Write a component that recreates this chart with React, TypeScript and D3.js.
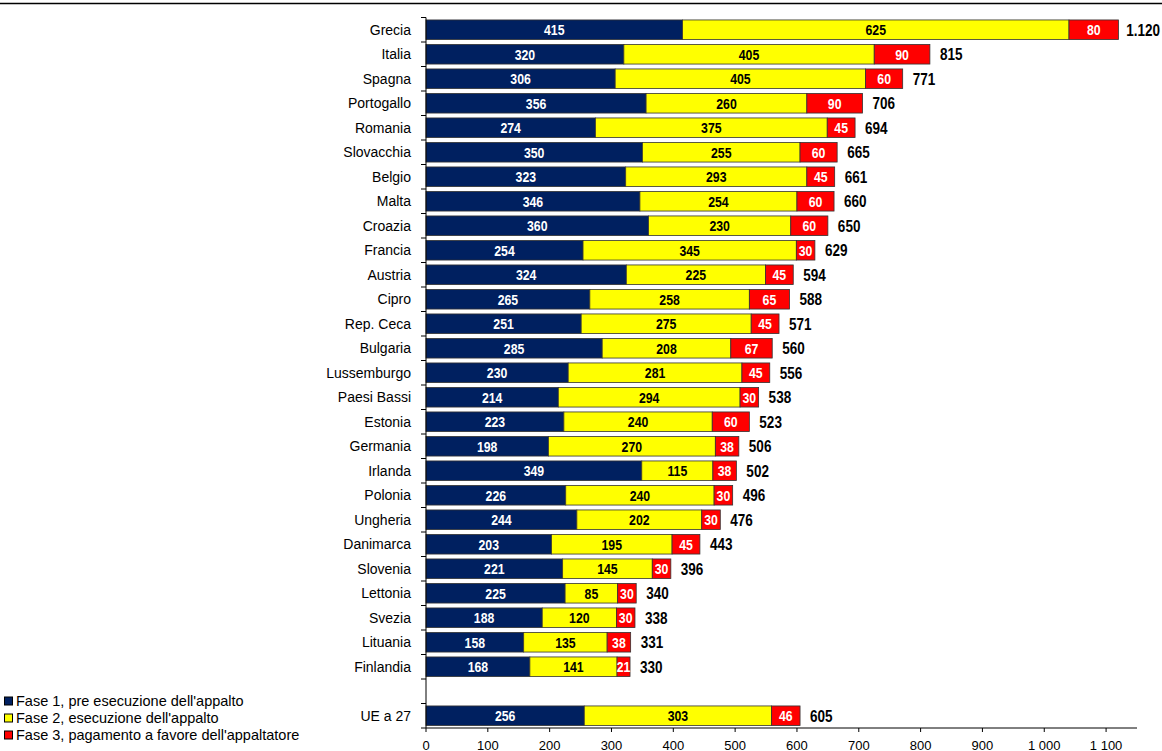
import React from "react";
import * as d3 from "d3";

// Giorni necessari per fase, per Paese
const countries = [
  "Grecia", "Italia", "Spagna", "Portogallo", "Romania", "Slovacchia", "Belgio",
  "Malta", "Croazia", "Francia", "Austria", "Cipro", "Rep. Ceca", "Bulgaria",
  "Lussemburgo", "Paesi Bassi", "Estonia", "Germania", "Irlanda", "Polonia",
  "Ungheria", "Danimarca", "Slovenia", "Lettonia", "Svezia", "Lituania", "Finlandia",
  "", "UE a 27",
];
const fase1 = [415, 320, 306, 356, 274, 350, 323, 346, 360, 254, 324, 265, 251, 285, 230, 214, 223, 198, 349, 226, 244, 203, 221, 225, 188, 158, 168, null, 256];
const fase2 = [625, 405, 405, 260, 375, 255, 293, 254, 230, 345, 225, 258, 275, 208, 281, 294, 240, 270, 115, 240, 202, 195, 145, 85, 120, 135, 141, null, 303];
const fase3 = [80, 90, 60, 90, 45, 60, 45, 60, 60, 30, 45, 65, 45, 67, 45, 30, 60, 38, 38, 30, 30, 45, 30, 30, 30, 38, 21, null, 46];

const xTicks = [0, 100, 200, 300, 400, 500, 600, 700, 800, 900, 1000, 1100];

const seriesNames = [
  "Fase 1, pre esecuzione dell'appalto",
  "Fase 2, esecuzione dell'appalto",
  "Fase 3, pagamento a favore dell'appaltatore",
];
const seriesColors = ["#002060", "#FFFF00", "#FF0000"];
const seriesText = ["#FFFFFF", "#000000", "#FFFFFF"];

const W = 1162;
const H = 751;
const ax = { left: 426, right: 1137, top: 17.5, bottom: 728 };

const sans = "'Liberation Sans', Arial, sans-serif";
const SQUEEZE = 0.82; // condensed look for the value labels

const fmtTick = (v: number) => {
  const s = String(v);
  return s.length > 3 ? s.slice(0, s.length - 3) + " " + s.slice(-3) : s;
};
const fmtTotal = (v: number) => d3.format(",")(v).replace(/,/g, ".");

function NarrowText(props: {
  x: number;
  y: number;
  anchor: "start" | "middle" | "end";
  size: number;
  fill: string;
  children: React.ReactNode;
}) {
  return (
    <g transform={`translate(${props.x},${props.y}) scale(${SQUEEZE},1)`}>
      <text
        x={0}
        y={0}
        dy="0.36em"
        textAnchor={props.anchor}
        fontFamily={sans}
        fontWeight="bold"
        fontSize={props.size}
        fill={props.fill}
      >
        {props.children}
      </text>
    </g>
  );
}

export default function App() {
  const x = d3.scaleLinear().domain([0, 1150]).range([ax.left, ax.right]);
  const keys = countries.map((c, i) => (c === "" ? "__gap" : c) + "#" + i);
  const y = d3
    .scaleBand()
    .domain(keys)
    .range([ax.top, ax.bottom])
    .paddingInner(0.2)
    .paddingOuter(0.1);
  const step = y.step();

  const rows = countries.map((name, i) => ({
    name,
    key: keys[i],
    vals: [fase1[i], fase2[i], fase3[i]],
  }));

  return (
    <svg
      width={W}
      height={H}
      style={{ position: "absolute", left: 0, top: 0, background: "#fff" }}
    >
      {/* rule under the heading */}
      <line x1={0} x2={W} y1={3.5} y2={3.5} stroke="#000" strokeWidth={1.6} />

      {/* stacked bars */}
      {rows.map((r) => {
        if (r.vals[0] == null) return null;
        const vals = r.vals as number[];
        const y0 = y(r.key) as number;
        const bh = y.bandwidth();
        const cy = y0 + bh / 2;
        let acc = 0;
        const total = d3.sum(vals);
        const tx = x(total) + 10;
        const fits = tx + 36 < W;
        return (
          <g key={r.key}>
            {vals.map((v, j) => {
              const a = acc;
              acc += v;
              const x0 = x(a);
              const x1 = x(acc);
              return (
                <g key={j}>
                  <rect
                    x={x0}
                    y={y0}
                    width={x1 - x0}
                    height={bh}
                    fill={seriesColors[j]}
                    stroke="#333"
                    strokeWidth={0.8}
                  />
                  <NarrowText x={(x0 + x1) / 2} y={cy} anchor="middle" size={15} fill={seriesText[j]}>
                    {v}
                  </NarrowText>
                </g>
              );
            })}
            <NarrowText
              x={fits ? tx : W - 2}
              y={cy}
              anchor={fits ? "start" : "end"}
              size={16.5}
              fill="#000"
            >
              {fmtTotal(total)}
            </NarrowText>
          </g>
        );
      })}

      {/* category axis */}
      <line x1={ax.left} x2={ax.left} y1={ax.top} y2={ax.bottom} stroke="#000" strokeWidth={1} />
      {d3.range(keys.length + 1).map((i) => {
        const yy = ax.top + i * step;
        return <line key={i} x1={ax.left - 5} x2={ax.left} y1={yy} y2={yy} stroke="#000" strokeWidth={1} />;
      })}
      {rows.map((r) =>
        r.name ? (
          <text
            key={r.key}
            x={ax.left - 15}
            y={(y(r.key) as number) + y.bandwidth() / 2}
            dy="0.36em"
            textAnchor="end"
            fontFamily={sans}
            fontSize={14}
            fill="#000"
          >
            {r.name}
          </text>
        ) : null
      )}

      {/* value axis */}
      <line x1={ax.left} x2={ax.right} y1={ax.bottom} y2={ax.bottom} stroke="#000" strokeWidth={1} />
      {xTicks.map((t) => (
        <g key={t}>
          <line x1={x(t)} x2={x(t)} y1={ax.bottom} y2={ax.bottom + 4} stroke="#000" strokeWidth={1} />
          <text x={x(t)} y={749.5} textAnchor="middle" fontFamily={sans} fontSize={13} fill="#000">
            {fmtTick(t)}
          </text>
        </g>
      ))}

      {/* legend */}
      {seriesNames.map((s, i) => {
        const cy = 701 + i * 17;
        return (
          <g key={s}>
            <rect x={4.5} y={cy - 4} width={8} height={8} fill={seriesColors[i]} stroke="#000" strokeWidth={1} />
            <text x={16} y={cy} dy="0.36em" fontFamily={sans} fontSize={14.5} fill="#000">
              {s}
            </text>
          </g>
        );
      })}
    </svg>
  );
}
